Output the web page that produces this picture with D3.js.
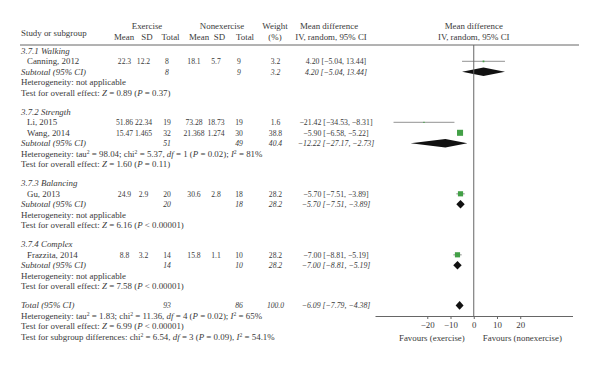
<!DOCTYPE html>
<html>
<head>
<meta charset="utf-8">
<script src="https://cdn.jsdelivr.net/npm/d3@7"></script>
<style>
  body { margin: 0; background: #fff; }
  svg text { font-family: "Liberation Serif", "Times New Roman", serif; font-size: 8.9px; fill: #3a3a3a; }
</style>
</head>
<body>
<svg id="chart" width="600" height="365"></svg>
<script>
// data
const groupNames = ['3.7.1 Walking', '3.7.2 Strength', '3.7.3 Balancing', '3.7.4 Complex'];
const studyNames = ['Canning, 2012', 'Li, 2015', 'Wang, 2014', 'Gu, 2013', 'Frazzita, 2014'];
const studyGroup = [0, 1, 1, 2, 3];
const exMean = [22.3, 51.86, 15.47, 24.9, 8.8];
const exSD = [12.2, 22.34, 1.465, 2.9, 3.2];
const exN = [8, 19, 32, 20, 14];
const nonMean = [18.1, 73.28, 21.368, 30.6, 15.8];
const nonSD = [5.7, 18.73, 1.274, 2.8, 1.1];
const nonN = [9, 19, 30, 18, 10];
const studyWeight = [3.2, 1.6, 38.8, 28.2, 28.2];
const studyMD = [4.20, -21.42, -5.90, -5.70, -7.00];
const studyLo = [-5.04, -34.53, -6.58, -7.51, -8.81];
const studyHi = [13.44, -8.31, -5.22, -3.89, -5.19];

const subExN = [8, 51, 20, 14];
const subNonN = [9, 49, 18, 10];
const subWeight = [3.2, 40.4, 28.2, 28.2];
const subMD = [4.20, -12.22, -5.70, -7.00];
const subLo = [-5.04, -27.17, -7.51, -8.81];
const subHi = [13.44, -2.73, -3.89, -5.19];
const hetTexts = [
  'Heterogeneity: not applicable',
  'Heterogeneity: tau^2 = 98.04; chi^2 = 5.37, *df* = 1 (*P* = 0.02); *I*^2 = 81%',
  'Heterogeneity: not applicable',
  'Heterogeneity: not applicable'
];
const testTexts = [
  'Test for overall effect: *Z* = 0.89 (*P* = 0.37)',
  'Test for overall effect: *Z* = 1.60 (*P* = 0.11)',
  'Test for overall effect: *Z* = 6.16 (*P* < 0.00001)',
  'Test for overall effect: *Z* = 7.58 (*P* < 0.00001)'
];

const totalExN = 93;
const totalNonN = 86;
const totalWeight = 100.0;
const totalMD = -6.09;
const totalLo = -7.79;
const totalHi = -4.38;
const totalHet = 'Heterogeneity: tau^2 = 1.83; chi^2 = 11.36, *df* = 4 (*P* = 0.02); *I*^2 = 65%';
const totalTest = 'Test for overall effect: *Z* = 6.99 (*P* < 0.00001)';
const subgroupTest = 'Test for subgroup differences: chi^2 = 6.54, *df* = 3 (*P* = 0.09), *I*^2 = 54.1%';

const axisTicks = [-20, -10, 0, 10, 20];

// layout
const svg = d3.select('#chart');
const col = { label: 21, study: 27, exMean: 124.5, exSD: 143.5, exN: 167, nonMean: 194, nonSD: 216, nonN: 239, weight: 275.5, ci: 336 };
const lineH = 10.4;
const gapH = 9;
const topY = 45;
const axisY = 316;
const green = '#43a047';
const numSqueeze = 0.86;
const ciSqueeze = 0.88;

const x = d3.scaleLinear().domain([-42.5, 42.5]).range([375, 572.5]);
const fmt2 = d3.format('.2f');
const fmt1 = d3.format('.1f');
const ciText = (m, lo, hi) => `${fmt2(m)} [${fmt2(lo)}, ${fmt2(hi)}]`;

function rich(sel, str) {
  let up = false;
  str.split(/(\*[^*]+\*|\^2)/).filter(s => s).forEach(p => {
    const t = sel.append('tspan');
    if (p === '^2') {
      t.attr('dy', -3).style('font-size', '5.7px').text('2');
      up = true;
      return;
    }
    if (up) { t.attr('dy', 3); up = false; }
    if (p.startsWith('*')) t.style('font-style', 'italic').text(p.slice(1, -1));
    else t.text(p);
  });
}

function txt(xp, yp, s, anchor = 'start', italic = false, squeeze = 1) {
  const t = svg.append('text')
    .attr('x', xp).attr('y', yp).attr('dy', '0.33em')
    .attr('text-anchor', anchor);
  if (italic) t.style('font-style', 'italic');
  rich(t, String(s));
  if (squeeze !== 1) {
    const len = t.node().getComputedTextLength();
    t.attr('textLength', len * squeeze).attr('lengthAdjust', 'spacingAndGlyphs');
  }
  return t;
}

// headers
txt(147, 26, 'Exercise', 'middle');
txt(222, 26, 'Nonexercise', 'middle');
txt(275, 26, 'Weight', 'middle');
txt(329, 26, 'Mean difference', 'middle');
txt(x(0), 26, 'Mean difference', 'middle');
txt(col.label, 33, 'Study or subgroup');
[['Mean', 124], ['SD', 147], ['Total', 170.5], ['Mean', 199], ['SD', 219.5], ['Total', 245]]
  .forEach(([s, cx]) => txt(cx, 37, s, 'middle'));
txt(275, 37, '(%)', 'middle');
txt(331, 37, 'IV, random, 95% CI', 'middle');
txt(x(0), 37, 'IV, random, 95% CI', 'middle');

svg.append('line').attr('x1', 20).attr('x2', 579).attr('y1', topY).attr('y2', topY)
  .attr('stroke', '#666').attr('stroke-width', 1);

// rows
const rows = [];
groupNames.forEach((g, gi) => {
  rows.push({ type: 'group', gi });
  studyNames.forEach((s, si) => { if (studyGroup[si] === gi) rows.push({ type: 'study', si }); });
  rows.push({ type: 'sub', gi });
  rows.push({ type: 'het', gi });
  rows.push({ type: 'test', gi, gap: true });
});
rows.push({ type: 'total' }, { type: 'totalHet' }, { type: 'totalTest' }, { type: 'subgroupTest' });

let yy = 51;
rows.forEach(r => {
  r.y = yy;
  yy += lineH + (r.gap ? gapH : 0);
});

const plot = svg.append('g');

rows.forEach(r => {
  const y = r.y;
  if (r.type === 'group') {
    txt(col.label, y, groupNames[r.gi], 'start', true);
  } else if (r.type === 'study') {
    const i = r.si;
    txt(col.study, y, studyNames[i]);
    txt(col.exMean, y, exMean[i], 'middle', false, numSqueeze);
    txt(col.exSD, y, exSD[i], 'middle', false, numSqueeze);
    txt(col.exN, y, exN[i], 'middle', false, numSqueeze);
    txt(col.nonMean, y, nonMean[i], 'middle', false, numSqueeze);
    txt(col.nonSD, y, nonSD[i], 'middle', false, numSqueeze);
    txt(col.nonN, y, nonN[i], 'middle', false, numSqueeze);
    txt(col.weight, y, fmt1(studyWeight[i]), 'middle', false, numSqueeze);
    txt(col.ci, y, ciText(studyMD[i], studyLo[i], studyHi[i]), 'middle', false, ciSqueeze);
    plot.append('line')
      .attr('x1', x(studyLo[i])).attr('x2', x(studyHi[i]))
      .attr('y1', y).attr('y2', y)
      .attr('stroke', '#a8a8a8').attr('stroke-width', 1.3);
    const side = 0.97 * Math.sqrt(studyWeight[i]);
    plot.append('rect')
      .attr('x', x(studyMD[i]) - side / 2).attr('y', y - side / 2)
      .attr('width', side).attr('height', side)
      .attr('fill', green);
  } else if (r.type === 'sub' || r.type === 'total') {
    const isSub = r.type === 'sub';
    const g = r.gi;
    const m = isSub ? subMD[g] : totalMD;
    const lo = isSub ? subLo[g] : totalLo;
    const hi = isSub ? subHi[g] : totalHi;
    txt(col.label, y, isSub ? 'Subtotal (95% CI)' : 'Total (95% CI)', 'start', true);
    txt(col.exN, y, isSub ? subExN[g] : totalExN, 'middle', true, numSqueeze);
    txt(col.nonN, y, isSub ? subNonN[g] : totalNonN, 'middle', true, numSqueeze);
    txt(col.weight, y, fmt1(isSub ? subWeight[g] : totalWeight), 'middle', true, numSqueeze);
    txt(col.ci, y, ciText(m, lo, hi), 'middle', true, ciSqueeze);
    const h = 4.3;
    plot.append('path')
      .attr('d', `M${x(lo)},${y}L${x(m)},${y - h}L${x(hi)},${y}L${x(m)},${y + h}Z`)
      .attr('fill', '#111');
  } else if (r.type === 'het') {
    txt(col.label, y, hetTexts[r.gi]);
  } else if (r.type === 'test') {
    txt(col.label, y, testTexts[r.gi]);
  } else if (r.type === 'totalHet') {
    txt(col.label, y, totalHet);
  } else if (r.type === 'totalTest') {
    txt(col.label, y, totalTest);
  } else if (r.type === 'subgroupTest') {
    txt(col.label, y, subgroupTest);
  }
});

// zero line and axis
svg.append('line')
  .attr('x1', x(0)).attr('x2', x(0)).attr('y1', topY).attr('y2', axisY)
  .attr('stroke', '#666').attr('stroke-width', 1);

const axis = d3.axisBottom(x)
  .tickValues(axisTicks)
  .tickSize(3)
  .tickSizeOuter(0)
  .tickPadding(3);
const axisG = svg.append('g').attr('transform', `translate(0,${axisY})`).call(axis);
axisG.select('.domain').attr('stroke', '#666');
axisG.selectAll('.tick line').attr('stroke', '#666');
axisG.selectAll('.tick text')
  .attr('fill', '#3a3a3a')
  .style('font-family', '"Liberation Serif", "Times New Roman", serif')
  .style('font-size', '8.9px');

txt(x(0) - 9, 338, 'Favours (exercise)', 'end');
txt(x(0) + 9, 338, 'Favours (nonexercise)', 'start');
</script>
</body>
</html>
